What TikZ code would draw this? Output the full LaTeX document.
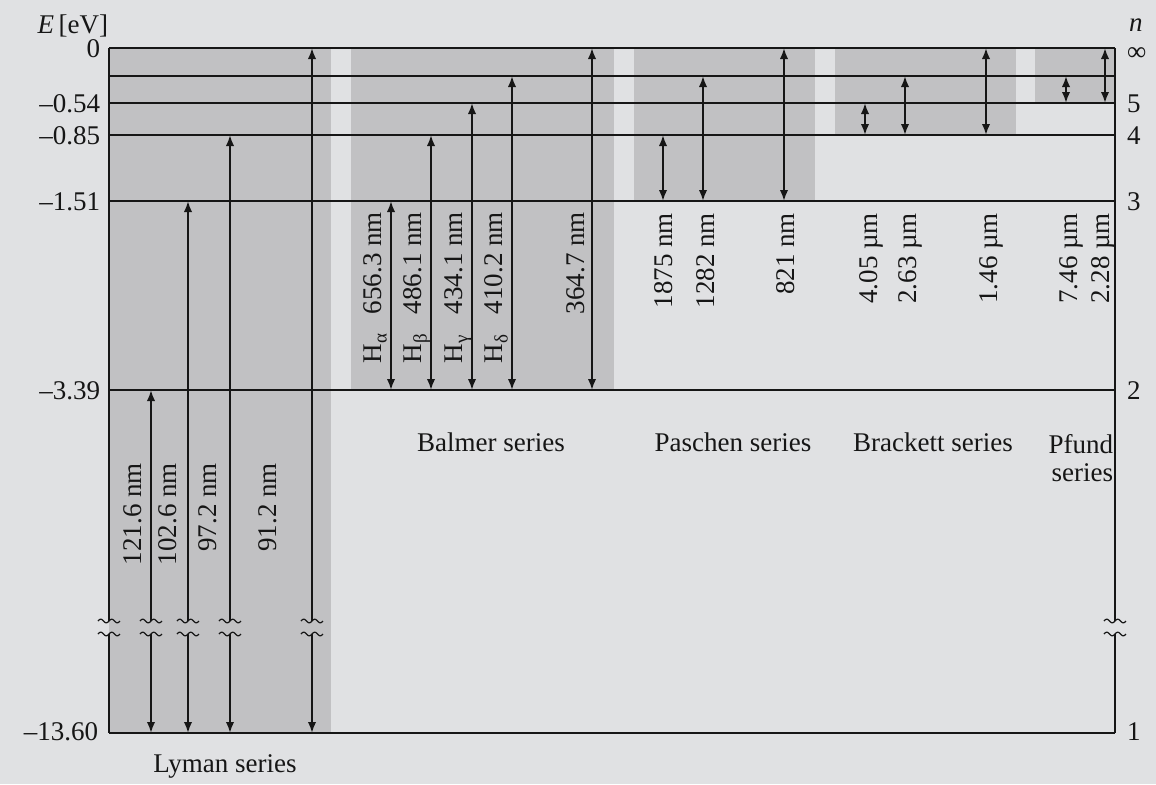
\documentclass[tikz,border=0pt]{standalone}
\usepackage{fontspec}
\setmainfont{Liberation Serif}
\usetikzlibrary{arrows.meta}
\definecolor{bgc}{RGB}{224,225,227}
\definecolor{shd}{RGB}{193,193,195}
\definecolor{ink}{RGB}{22,22,22}
\newcommand\lowsub[1]{\raisebox{-0.45ex}{\fontsize{9.5pt}{10pt}\selectfont #1}}
\newcommand\wavemark[2]{\draw[wave] plot[variable=\t,domain=-11:11,samples=40] ({#1+\t},{#2-1.8*sin(\t*360/11)});}
\begin{document}
\begin{tikzpicture}[x=0.5pt,y=-0.5pt,
  every node/.style={inner sep=0pt, outer sep=0pt, text=ink, font=\fontsize{13.5pt}{16pt}\selectfont},
  lvl/.style={draw=ink, line width=0.65pt},
  tr/.style={draw=ink, line width=1pt, {Latex[length=5.5pt,width=4.2pt]}-{Latex[length=5.5pt,width=4.2pt]}},
  trh/.style={draw=ink, line width=1pt, -{Latex[length=5.5pt,width=4.2pt]}},
  wl/.style={rotate=90, anchor=base east},
  sh/.style={fill=shd, draw=none},
  wave/.style={draw=ink, line width=0.6pt},
  lab/.style={anchor=base east},
  rlab/.style={anchor=base west},
  ser/.style={anchor=base}
]
\fill[bgc] (0,0) rectangle (1156,784);
\useasboundingbox (0,0) rectangle (1156,784);

% shaded series regions
\fill[sh] (109,48) rectangle (331,733);
\fill[sh] (351,48) rectangle (614,390);
\fill[sh] (634,48) rectangle (815,201);
\fill[sh] (835,48) rectangle (1016,135);
\fill[sh] (1035,48) rectangle (1115,103);

% energy levels
\foreach \n/\y in {inf/48, six/76, five/103, four/135, three/201, two/390, one/733}{
  \coordinate (L\n) at (109,\y);
  \coordinate (R\n) at (1115,\y);
  \draw[lvl] (L\n) -- (R\n);
}
% frame sides with breaks
\coordinate (Lbu) at (109,621); \coordinate (Lbl) at (109,634);
\coordinate (Rbu) at (1115,621); \coordinate (Rbl) at (1115,634);
\draw[lvl] (Linf) -- (Lbu); \draw[lvl] (Lbl) -- (Lone);
\draw[lvl] (Rinf) -- (Rbu); \draw[lvl] (Rbl) -- (Rone);
\wavemark{109}{621}\wavemark{109}{634}
\wavemark{1115}{621}\wavemark{1115}{634}

% Lyman transitions (broken)
\foreach \i/\px/\t in {1/151/390, 2/188/201, 3/230/135, 4/312/48}{
  \coordinate (ly\i b) at (\px,733);
  \coordinate (ly\i l) at (\px,634);
  \coordinate (ly\i u) at (\px,621);
  \coordinate (ly\i t) at (\px,\t);
  \draw[trh] (ly\i l) -- (ly\i b);
  \draw[trh] (ly\i u) -- (ly\i t);
}
\foreach \px in {151,188,230,312}{
  \wavemark{\px}{621}\wavemark{\px}{634}
}

% other transitions
\foreach \i/\px/\b/\tt in {ba1/391/390/201, ba2/431/390/135, ba3/472/390/103, ba4/512/390/76, ba5/592/390/48,
  pa1/663/201/135, pa2/703/201/76, pa3/784/201/48,
  br1/865/135/103, br2/905/135/76, br3/986/135/48,
  pf1/1066/103/76, pf2/1105/103/48}{
  \coordinate (\i b) at (\px,\b);
  \coordinate (\i t) at (\px,\tt);
  \draw[tr] (\i b) -- (\i t);
}

% wavelength labels
\node[wl] (wl1) at (141,463) {121.6 nm};
\node[wl] (wl2) at (176,463) {102.6 nm};
\node[wl] (wl3) at (216,463) {97.2 nm};
\node[wl] (wl4) at (276,463) {91.2 nm};

\node[wl] (wb1) at (381,212) {\hbox to 75.5pt{H\lowsub{α}\hfill 656.3 nm}};
\node[wl] (wb2) at (421,212) {\hbox to 75.5pt{H\lowsub{β}\hfill 486.1 nm}};
\node[wl] (wb3) at (462,212) {\hbox to 75.5pt{H\lowsub{γ}\hfill 434.1 nm}};
\node[wl] (wb4) at (502,212) {\hbox to 75.5pt{H\lowsub{δ}\hfill 410.2 nm}};
\node[wl] (wb5) at (584,212) {364.7 nm};

\node[wl] (wp1) at (672,213) {1875 nm};
\node[wl] (wp2) at (714,213) {1282 nm};
\node[wl] (wp3) at (794,213) {821 nm};
\node[wl] (wr1) at (877,213) {4.05 µm};
\node[wl] (wr2) at (916,213) {2.63 µm};
\node[wl] (wr3) at (997,213) {1.46 µm};
\node[wl] (wf1) at (1077,213) {7.46 µm};
\node[wl] (wf2) at (1109,213) {2.28 µm};

% series names
\node[ser] (sly) at (225,772) {Lyman series};
\node[ser] (sba) at (491,451) {Balmer series};
\node[ser] (spa) at (733,451) {Paschen series};
\node[ser] (sbr) at (933,451) {Brackett series};
\node[anchor=north east, align=right, font=\fontsize{13.5pt}{14pt}\selectfont] (spf) at (1113,434) {Pfund\\series};

% energy axis
\node[lab] (eax) at (108,33) {\textit{E}\,[eV]};
\node[lab] (e0) at (100,57) {0};
\node[lab] (e5) at (100,112) {–0.54};
\node[lab] (e4) at (100,144) {–0.85};
\node[lab] (e3) at (100,210) {–1.51};
\node[lab] (e2) at (100,399) {–3.39};
\node[lab] (e1) at (98,740) {–13.60};

% quantum number axis
\node[rlab] (nax) at (1129,31) {\textit{n}};
\node[rlab] (ninf) at (1127,60) {∞};
\node[rlab] (n5) at (1127,112) {5};
\node[rlab] (n4) at (1127,144) {4};
\node[rlab] (n3) at (1127,210) {3};
\node[rlab] (n2) at (1127,399) {2};
\node[rlab] (n1) at (1127,740) {1};
\end{tikzpicture}
\end{document}
